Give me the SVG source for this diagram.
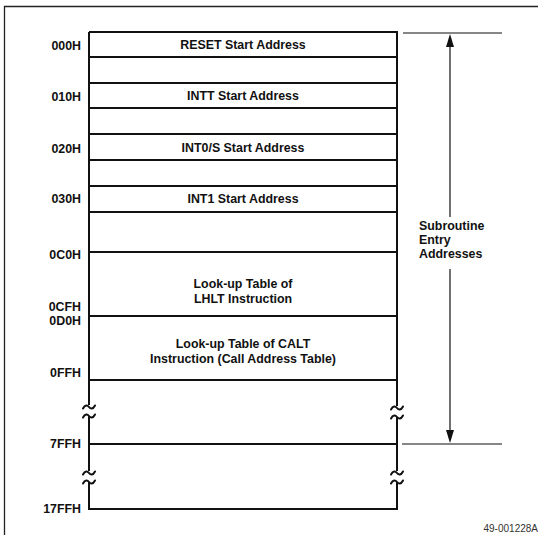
<svg xmlns="http://www.w3.org/2000/svg" width="538" height="535" viewBox="0 0 538 535">
<defs>
<style>
.t{font-family:"Liberation Sans",Arial,sans-serif;font-size:12.4px;font-weight:bold;fill:#111}
.c{text-anchor:middle}
.r{text-anchor:end}
.ln{stroke:#111;stroke-width:2;fill:none}
.th{stroke:#111;stroke-width:1.2;fill:none}
.tl{stroke:#111;stroke-width:2;fill:none;stroke-linecap:round}
.ft{font-family:"Liberation Sans",Arial,sans-serif;font-size:10px;fill:#333;text-anchor:end}
</style>
<path id="tilde" d="M-6,1.5 C-4,-2.5 -1.5,-2 0,0 S4,2.5 6,-1.5"/>
</defs>
<rect width="538" height="535" fill="#fff"/>
<g id="frame">
<line x1="4" y1="6.5" x2="538" y2="6.5" stroke="#222" stroke-width="1.3"/>
<line x1="4.5" y1="6" x2="4.5" y2="535" stroke="#222" stroke-width="1.3"/>
</g>
<g id="memory-box">
<path class="ln" d="M89,32 V405 M89,416 V471 M89,482 V509 H397 V482 M397,471 V417 M397,406 V32 H89"/>
<use href="#tilde" x="89" y="407" class="tl"/>
<use href="#tilde" x="89" y="416" class="tl"/>
<use href="#tilde" x="89" y="473" class="tl"/>
<use href="#tilde" x="89" y="482" class="tl"/>
<use href="#tilde" x="397" y="408" class="tl"/>
<use href="#tilde" x="397" y="417" class="tl"/>
<use href="#tilde" x="397" y="473" class="tl"/>
<use href="#tilde" x="397" y="482" class="tl"/>
</g>
<g id="row-reset"><text class="t c" x="243" y="49">RESET Start Address</text><text class="t r" x="81" y="50">000H</text></g>
<g id="row-gap1"><line class="ln" x1="89" y1="57" x2="397" y2="57"/></g>
<g id="row-intt"><line class="ln" x1="89" y1="83" x2="397" y2="83"/><text class="t c" x="243" y="100">INTT Start Address</text><text class="t r" x="81" y="101">010H</text></g>
<g id="row-gap2"><line class="ln" x1="89" y1="108" x2="397" y2="108"/></g>
<g id="row-int0s"><line class="ln" x1="89" y1="134" x2="397" y2="134"/><text class="t c" x="243" y="152">INT0/S Start Address</text><text class="t r" x="81" y="153">020H</text></g>
<g id="row-gap3"><line class="ln" x1="89" y1="160" x2="397" y2="160"/></g>
<g id="row-int1"><line class="ln" x1="89" y1="186" x2="397" y2="186"/><text class="t c" x="243" y="203">INT1 Start Address</text><text class="t r" x="81" y="203">030H</text></g>
<g id="row-gap4"><line class="ln" x1="89" y1="212" x2="397" y2="212"/></g>
<g id="row-lhlt"><line class="ln" x1="89" y1="252" x2="397" y2="252"/><text class="t c" x="243" y="288">Look-up Table of</text><text class="t c" x="243" y="303">LHLT Instruction</text><text class="t r" x="81" y="259">0C0H</text><text class="t r" x="81" y="311">0CFH</text></g>
<g id="row-calt"><line class="ln" x1="89" y1="316" x2="397" y2="316"/><text class="t c" x="243" y="348">Look-up Table of CALT</text><text class="t c" x="243" y="363">Instruction (Call Address Table)</text><text class="t r" x="81" y="325">0D0H</text><text class="t r" x="81" y="377">0FFH</text></g>
<g id="row-7ff"><line class="ln" x1="89" y1="380" x2="397" y2="380"/><line class="ln" x1="89" y1="444" x2="397" y2="444"/><text class="t r" x="81" y="448">7FFH</text></g>
<g id="row-17ff"><text class="t r" x="81" y="513">17FFH</text></g>
<g id="connectors">
<line class="th" x1="403" y1="33" x2="502" y2="33" stroke-width="1.5"/>
<line class="th" x1="402" y1="444" x2="502" y2="444" stroke-width="1.7"/>
<line class="th" x1="450" y1="45" x2="450" y2="217"/>
<line class="th" x1="450" y1="269" x2="450" y2="432"/>
<polygon points="450,34 446,47 454,47" fill="#111"/>
<polygon points="450,443 446,430 454,430" fill="#111"/>
</g>
<g id="label-subroutine">
<text class="t" x="419" y="230">Subroutine</text>
<text class="t" x="419" y="244">Entry</text>
<text class="t" x="419" y="258">Addresses</text>
</g>
<text class="ft" x="538" y="532">49-001228A</text>
</svg>
